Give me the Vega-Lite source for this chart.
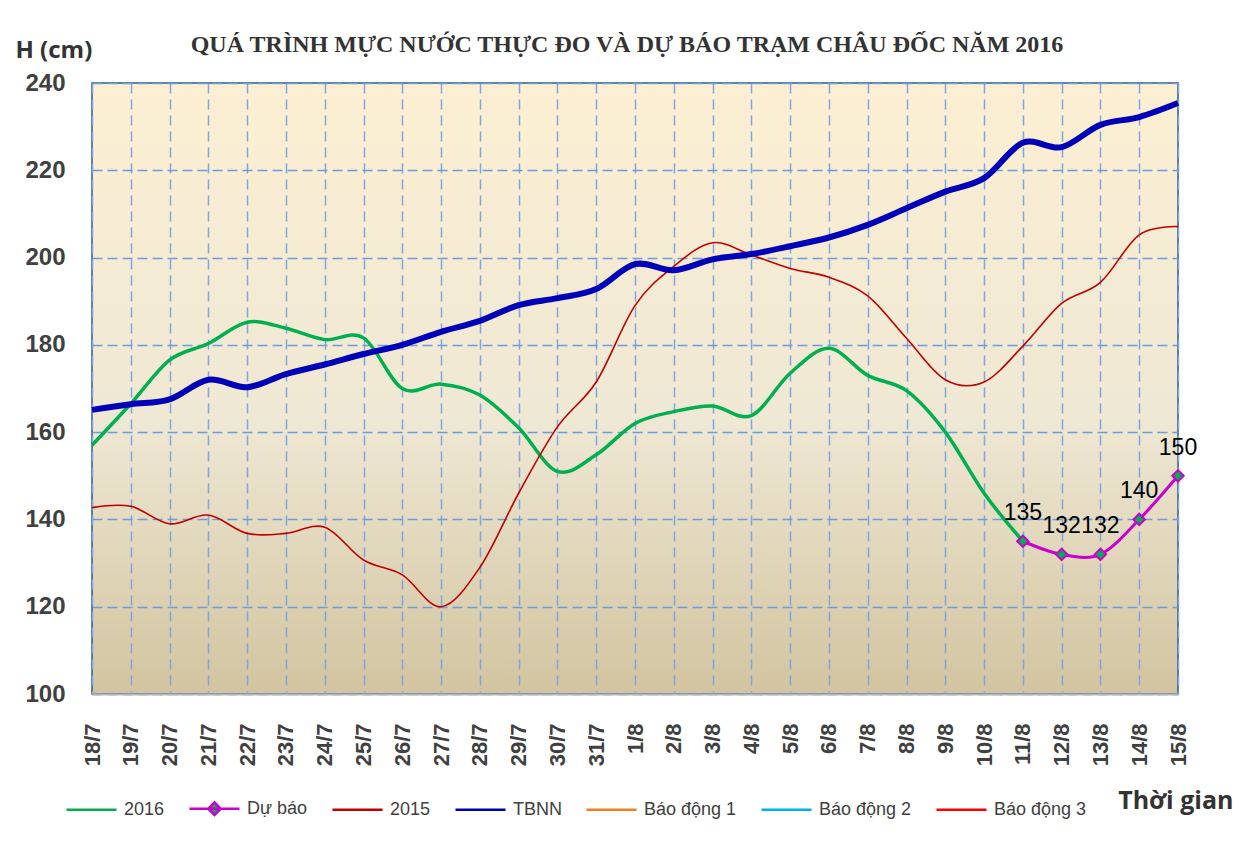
{
"$schema": "https://vega.github.io/schema/vega-lite/v6.json",
"autosize": {"type": "none"},
"width": 1086,
"height": 611,
"padding": {"left": 92, "top": 83, "right": 62, "bottom": 155},
"background": "white",
"title": {"text": "QUÁ TRÌNH MỰC NƯỚC THỰC ĐO VÀ DỰ BÁO TRẠM CHÂU ĐỐC  NĂM 2016", "font": "Liberation Serif", "fontSize": 24, "fontWeight": "bold", "color": "#333333", "anchor": "middle", "frame": "group", "offset": -19, "dx": -8},
"data": {"values": [
{"d":"18/7","s":"2016","v":157},{"d":"19/7","s":"2016","v":166.5},{"d":"20/7","s":"2016","v":176.5},{"d":"21/7","s":"2016","v":180.3},{"d":"22/7","s":"2016","v":185.2},{"d":"23/7","s":"2016","v":183.8},{"d":"24/7","s":"2016","v":181.2},{"d":"25/7","s":"2016","v":181.6},{"d":"26/7","s":"2016","v":170},{"d":"27/7","s":"2016","v":171},{"d":"28/7","s":"2016","v":168.5},{"d":"29/7","s":"2016","v":161},{"d":"30/7","s":"2016","v":151},{"d":"31/7","s":"2016","v":154.8},{"d":"1/8","s":"2016","v":162},{"d":"2/8","s":"2016","v":164.7},{"d":"3/8","s":"2016","v":166},{"d":"4/8","s":"2016","v":163.8},{"d":"5/8","s":"2016","v":173.5},{"d":"6/8","s":"2016","v":179.2},{"d":"7/8","s":"2016","v":173},{"d":"8/8","s":"2016","v":169.5},{"d":"9/8","s":"2016","v":160},{"d":"10/8","s":"2016","v":146},{"d":"11/8","s":"2016","v":135},
{"d":"11/8","s":"Dự báo","v":135},{"d":"12/8","s":"Dự báo","v":132},{"d":"13/8","s":"Dự báo","v":132},{"d":"14/8","s":"Dự báo","v":140},{"d":"15/8","s":"Dự báo","v":150},
{"d":"18/7","s":"2015","v":142.7},{"d":"19/7","s":"2015","v":143},{"d":"20/7","s":"2015","v":139},{"d":"21/7","s":"2015","v":141},{"d":"22/7","s":"2015","v":136.8},{"d":"23/7","s":"2015","v":136.8},{"d":"24/7","s":"2015","v":138.2},{"d":"25/7","s":"2015","v":130.7},{"d":"26/7","s":"2015","v":127.3},{"d":"27/7","s":"2015","v":120},{"d":"28/7","s":"2015","v":129},{"d":"29/7","s":"2015","v":146},{"d":"30/7","s":"2015","v":161.2},{"d":"31/7","s":"2015","v":171.5},{"d":"1/8","s":"2015","v":189},{"d":"2/8","s":"2015","v":198},{"d":"3/8","s":"2015","v":203.4},{"d":"4/8","s":"2015","v":200.6},{"d":"5/8","s":"2015","v":197.5},{"d":"6/8","s":"2015","v":195.5},{"d":"7/8","s":"2015","v":191.2},{"d":"8/8","s":"2015","v":181.5},{"d":"9/8","s":"2015","v":172},{"d":"10/8","s":"2015","v":171.5},{"d":"11/8","s":"2015","v":179.7},{"d":"12/8","s":"2015","v":189.5},{"d":"13/8","s":"2015","v":194.3},{"d":"14/8","s":"2015","v":205.2},{"d":"15/8","s":"2015","v":207.1},
{"d":"18/7","s":"TBNN","v":165.1},{"d":"19/7","s":"TBNN","v":166.4},{"d":"20/7","s":"TBNN","v":167.5},{"d":"21/7","s":"TBNN","v":172},{"d":"22/7","s":"TBNN","v":170.3},{"d":"23/7","s":"TBNN","v":173.3},{"d":"24/7","s":"TBNN","v":175.5},{"d":"25/7","s":"TBNN","v":177.9},{"d":"26/7","s":"TBNN","v":180},{"d":"27/7","s":"TBNN","v":183},{"d":"28/7","s":"TBNN","v":185.5},{"d":"29/7","s":"TBNN","v":189.1},{"d":"30/7","s":"TBNN","v":190.7},{"d":"31/7","s":"TBNN","v":192.8},{"d":"1/8","s":"TBNN","v":198.5},{"d":"2/8","s":"TBNN","v":197.1},{"d":"3/8","s":"TBNN","v":199.6},{"d":"4/8","s":"TBNN","v":200.8},{"d":"5/8","s":"TBNN","v":202.6},{"d":"6/8","s":"TBNN","v":204.6},{"d":"7/8","s":"TBNN","v":207.5},{"d":"8/8","s":"TBNN","v":211.3},{"d":"9/8","s":"TBNN","v":215.1},{"d":"10/8","s":"TBNN","v":218.2},{"d":"11/8","s":"TBNN","v":226.3},{"d":"12/8","s":"TBNN","v":225.3},{"d":"13/8","s":"TBNN","v":230.4},{"d":"14/8","s":"TBNN","v":232.2},{"d":"15/8","s":"TBNN","v":235.4}
]},
"encoding": {
"x": {"field": "d", "type": "ordinal", "sort": ["18/7","19/7","20/7","21/7","22/7","23/7","24/7","25/7","26/7","27/7","28/7","29/7","30/7","31/7","1/8","2/8","3/8","4/8","5/8","6/8","7/8","8/8","9/8","10/8","11/8","12/8","13/8","14/8","15/8"], "scale": {"type": "point", "padding": 0},
"axis": {"title": "Thời gian", "labelAngle": 270, "labelAlign": "right", "labelBaseline": "middle", "labelPadding": 29, "labelFontSize": 22, "labelFontWeight": "bold", "labelFont": "Liberation Sans", "labelColor": "#404040", "labelOverlap": false, "ticks": false, "domainColor": "#B5B5B5", "domainWidth": 2, "grid": true, "gridColor": "#7EA6E0", "gridDash": [10, 6], "gridWidth": 1.5, "titleX": 1141, "titleY": 114, "titleAlign": "right", "titleBaseline": "alphabetic", "titleFont": "Open Sans", "titleFontSize": 25, "titleFontWeight": "bold", "titleColor": "#333333"}},
"y": {"field": "v", "type": "quantitative", "scale": {"domain": [100, 240], "nice": false, "zero": false},
"axis": {"values": [100,120,140,160,180,200,220,240], "title": "H (cm)", "titleAngle": 0, "titleX": -77, "titleY": -26, "titleAlign": "left", "titleBaseline": "alphabetic", "titleFont": "Open Sans", "titleFontSize": 24, "titleFontWeight": "bold", "titleColor": "#333333", "labelPadding": 27, "labelFontSize": 24, "labelFontWeight": "bold", "labelFont": "Liberation Sans", "labelColor": "#404040", "ticks": false, "domain": false, "grid": true, "gridColor": "#6E9BDA", "gridDash": [10, 5], "gridWidth": 1.5}}
},
"layer": [
{"transform": [{"filter": "datum.s === '2016'"}], "mark": {"type": "line", "interpolate": "cardinal", "strokeWidth": 3.5},
 "encoding": {"color": {"field": "s", "type": "nominal",
  "scale": {"domain": ["2016","Dự báo","2015","TBNN","Báo động 1","Báo động 2","Báo động 3"], "range": ["#00B050","#CC00CC","#C00000","#0000B8","#F07F1E","#00B0F0","#FF0000"]},
  "legend": {"orient": "none", "legendX": -27, "legendY": 699, "direction": "horizontal", "title": null, "symbolType": "stroke", "symbolSize": 2500, "symbolStrokeWidth": 2.5, "labelFontSize": 18, "labelFont": "Liberation Sans", "labelColor": "#404040", "labelOffset": 6, "columnPadding": 19, "labelLimit": 300,
   "encode": {"symbols": {"update": {"shape": {"signal": "datum.value === 'Dự báo' ? 'M-1,0L1,0M0,-0.25L0.25,0L0,0.25L-0.25,0Z' : 'stroke'"}, "fill": {"signal": "datum.value === 'Dự báo' ? '#00B050' : 'transparent'"}}}}}}}},
{"transform": [{"filter": "datum.s === 'Dự báo'"}], "mark": {"type": "line", "interpolate": "cardinal", "strokeWidth": 3}, "encoding": {"color": {"field": "s", "type": "nominal"}}},
{"transform": [{"filter": "datum.s === '2015'"}], "mark": {"type": "line", "interpolate": "cardinal", "strokeWidth": 1.6}, "encoding": {"color": {"field": "s", "type": "nominal"}}},
{"transform": [{"filter": "datum.s === 'TBNN'"}], "mark": {"type": "line", "interpolate": "cardinal", "strokeWidth": 6}, "encoding": {"color": {"field": "s", "type": "nominal"}}},
{"transform": [{"filter": "datum.s === 'Dự báo'"}], "mark": {"type": "point", "shape": "diamond", "filled": true, "fill": "#00B050", "stroke": "#CC00CC", "strokeWidth": 2, "size": 130, "opacity": 1}},
{"transform": [{"filter": "datum.s === 'Dự báo'"}], "mark": {"type": "text", "dy": -21, "baseline": "alphabetic", "fontSize": 23, "font": "Liberation Sans", "color": "#000000"}, "encoding": {"text": {"field": "v", "type": "quantitative"}}}
],
"config": {
"view": {"stroke": "#2E5A8C", "strokeWidth": 1.5, "fill": {"gradient": "linear", "x1": 0, "y1": 0, "x2": 0, "y2": 1, "stops": [{"offset": 0, "color": "#FCEFD3"}, {"offset": 0.55, "color": "#EFE8D4"}, {"offset": 1, "color": "#D2C4A0"}]}}
}
}
